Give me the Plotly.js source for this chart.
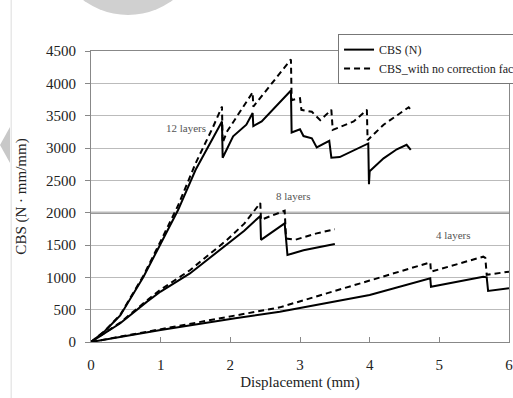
<!DOCTYPE html>
<html><head><meta charset="utf-8">
<script src="https://cdn.plot.ly/plotly-3.0.1.min.js"></script>
<style>html,body{margin:0;padding:0;background:#fff}#chart{width:513px;height:398px}</style>
</head><body><div id="chart"></div>
<script>
// 12 layers
var x12Solid = [0, 0.2, 0.42, 0.75, 1.0, 1.25, 1.5, 1.88, 1.89, 2.04, 2.23, 2.32, 2.33, 2.45, 2.87, 2.88, 3.0, 3.05, 3.17, 3.24, 3.42, 3.45, 3.57, 3.77, 3.98, 3.99, 4.0, 4.2, 4.39, 4.53, 4.59];
var y12Solid = [0, 170, 410, 1000, 1520, 2040, 2660, 3410, 2850, 3180, 3360, 3540, 3340, 3410, 3890, 3240, 3290, 3185, 3150, 3010, 3110, 2850, 2860, 2960, 3070, 2440, 2640, 2840, 2980, 3050, 2970];
var x12Dash = [0, 0.2, 0.42, 0.75, 1.0, 1.25, 1.5, 1.75, 1.88, 1.89, 1.95, 2.32, 2.33, 2.87, 2.88, 3.0, 3.02, 3.17, 3.29, 3.45, 3.47, 3.77, 3.96, 3.97, 4.2, 4.39, 4.56, 4.6];
var y12Dash = [0, 175, 420, 1020, 1560, 2110, 2760, 3320, 3640, 3080, 3250, 3860, 3640, 4370, 3740, 3770, 3590, 3560, 3430, 3590, 3280, 3410, 3590, 3120, 3360, 3510, 3630, 3580];
// 8 layers
var x8Solid = [0, 0.42, 0.8, 1.0, 1.42, 1.95, 2.2, 2.43, 2.44, 2.78, 2.82, 3.05, 3.33, 3.5];
var y8Solid = [0, 290, 620, 780, 1060, 1500, 1720, 1950, 1580, 1835, 1345, 1420, 1475, 1515];
var x8Dash = [0, 0.42, 0.8, 1.0, 1.42, 1.95, 2.2, 2.43, 2.44, 2.78, 2.8, 2.93, 3.24, 3.5];
var y8Dash = [0, 300, 640, 810, 1110, 1577, 1830, 2150, 1890, 2030, 1600, 1580, 1680, 1745];
// 4 layers
var x4Solid = [0, 1.0, 2.07, 2.71, 4.0, 4.87, 4.88, 5.63, 5.68, 5.7, 6.0];
var y4Solid = [0, 185, 366, 469, 727, 985, 855, 1010, 1000, 790, 830];
var x4Dash = [0, 1.0, 2.07, 2.71, 4.0, 4.87, 4.88, 5.63, 5.66, 5.68, 6.0];
var y4Dash = [0, 195, 400, 536, 950, 1232, 1087, 1319, 1300, 1040, 1087];

var seriesNames = ["CBS (N)", "CBS_with no correction factor"];
var layerLabels = ["12 layers", "8 layers", "4 layers"];
var labelX = [1.36, 2.9, 5.2];
var labelY = [3310, 2260, 1655];
var yTicks = [0, 500, 1000, 1500, 2000, 2500, 3000, 3500, 4000, 4500];
var xTicks = [0, 1, 2, 3, 4, 5, 6];

var font = "Liberation Serif";
var solidLine = {color: '#000', width: 2};
var dashLine = {color: '#000', width: 2, dash: '6px,4px'};
function tr(x, y, line, name, show) {
  return {x: x, y: y, type: 'scatter', mode: 'lines', line: line, name: name, showlegend: show, hoverinfo: 'skip'};
}
var data = [
  tr(x12Solid, y12Solid, solidLine, seriesNames[0], true),
  tr(x12Dash, y12Dash, dashLine, seriesNames[1], true),
  tr(x8Solid, y8Solid, solidLine, seriesNames[0], false),
  tr(x8Dash, y8Dash, dashLine, seriesNames[1], false),
  tr(x4Solid, y4Solid, solidLine, seriesNames[0], false),
  tr(x4Dash, y4Dash, dashLine, seriesNames[1], false)
];
var annotations = layerLabels.map(function (t, i) {
  return {x: labelX[i], y: labelY[i], xref: 'x', yref: 'y', text: t, showarrow: false,
          font: {family: font, size: 11, color: '#555'}};
});
var layout = {
  width: 513, height: 398,
  margin: {l: 91, r: 4, t: 51, b: 56, autoexpand: false},
  paper_bgcolor: '#fff', plot_bgcolor: '#fff',
  font: {family: font, size: 15, color: '#222'},
  xaxis: {range: [0, 6], tickvals: xTicks, ticktext: xTicks.map(String), ticks: 'inside', ticklen: 5, tickcolor: '#888',
          ticklabelstandoff: 9, ticklabeloverflow: 'allow',
          showgrid: false, zeroline: false, showline: true, linecolor: '#888', linewidth: 1, mirror: true,
          title: {text: 'Displacement (mm)', font: {family: font, size: 15, color: '#222'}, standoff: 4},
          tickfont: {family: font, size: 15, color: '#222'}},
  yaxis: {range: [0, 4500], tickvals: yTicks, ticktext: yTicks.map(String), ticks: 'outside', ticklen: 5, tickcolor: '#888',
          ticklabelstandoff: 6, ticklabeloverflow: 'allow',
          showgrid: true, gridcolor: '#bbb', gridwidth: 1, zeroline: false, showline: true, linecolor: '#888', linewidth: 1, mirror: true,
          title: {text: 'CBS (N · mm/mm)', font: {family: font, size: 15, color: '#222'}, standoff: 15},
          tickfont: {family: font, size: 15, color: '#222'}},
  legend: {x: 0.591, y: 1.058, xanchor: 'left', yanchor: 'top', bgcolor: '#fff', bordercolor: '#777', borderwidth: 1,
           font: {family: font, size: 12, color: '#222'}, tracegroupgap: 0},
  annotations: annotations,
  shapes: [
    {type: 'line', xref: 'paper', yref: 'y', x0: 0, x1: 1, y0: 2000, y1: 2000, line: {color: '#777', width: 2}, layer: 'below'},
    {type: 'circle', xref: 'paper', yref: 'paper', x0: -0.0909, x1: 0.268, y0: 1.124, y1: 1.639, fillcolor: '#d0d0d0', line: {width: 0}},
    {type: 'line', xref: 'paper', yref: 'paper', x0: -0.191, x1: -0.191, y0: -0.2, y1: 1.2, line: {color: '#ddd', width: 1}},
    {type: 'path', xref: 'paper', yref: 'paper', path: 'M -0.2177,0.677 L -0.1938,0.739 L -0.1938,0.615 Z', fillcolor: '#c8c8c8', line: {width: 0}}
  ]
};
Plotly.newPlot('chart', data, layout, {displayModeBar: false, staticPlot: true});
</script></body></html>
